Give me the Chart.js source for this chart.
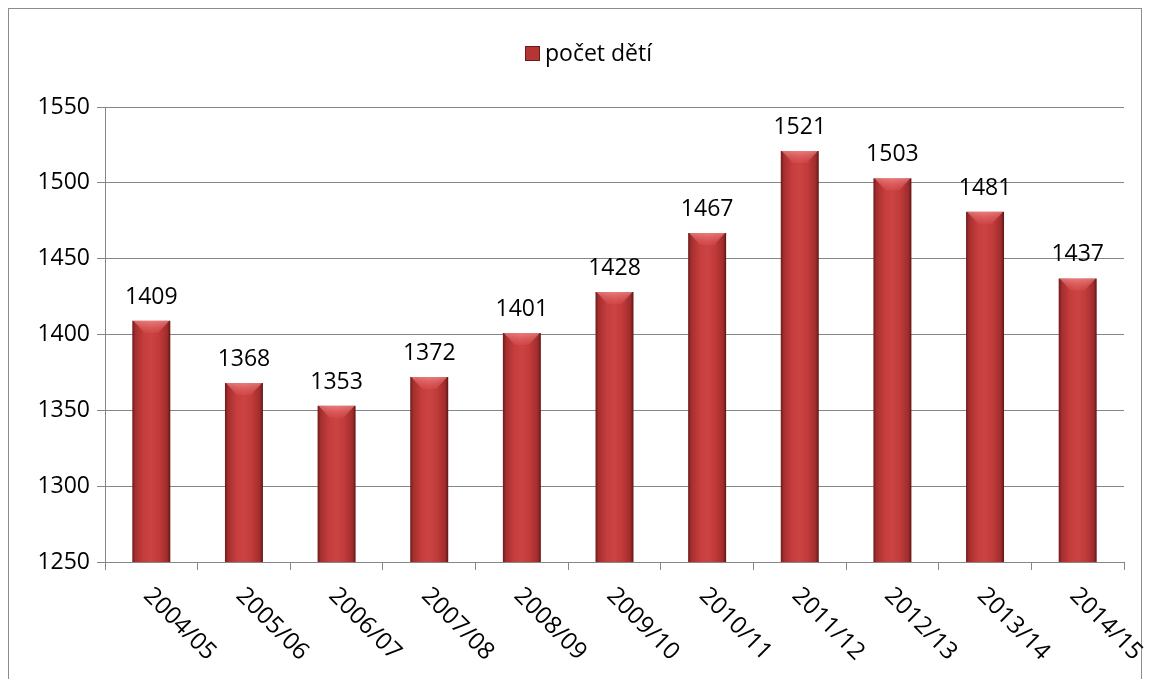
<!DOCTYPE html>
<html>
<head>
<meta charset="utf-8">
<script src="https://cdn.jsdelivr.net/npm/chart.js@4"></script>
<style>
  html, body { margin: 0; padding: 0; background: #fff; }
  #wrap { position: relative; width: 1149px; height: 679px; }
</style>
</head>
<body>
<div id="wrap"><canvas id="myChart" width="1149" height="679"></canvas></div>
<script>
const years = ['2004/05', '2005/06', '2006/07', '2007/08', '2008/09', '2009/10', '2010/11', '2011/12', '2012/13', '2013/14', '2014/15'];
const childCount = [1409, 1368, 1353, 1372, 1401, 1428, 1467, 1521, 1503, 1481, 1437];
const yTicks = [1250, 1300, 1350, 1400, 1450, 1500, 1550];
const seriesName = 'počet dětí';

const FONT = '"Open Sans", "Noto Sans", sans-serif';
const BAR_PCT = 0.41;

// horizontal gradient across each bar, like the office "shaded" style
function barFill(context) {
    const chart = context.chart;
    const xs = chart.scales.x;
    if (!xs || !chart.chartArea) return '#c0393a';
    const cx = xs.getPixelForValue(context.dataIndex);
    const half = (xs.width / years.length) * BAR_PCT / 2;
    const g = chart.ctx.createLinearGradient(cx - half, 0, cx + half, 0);
    g.addColorStop(0, '#6e1a1a');
    g.addColorStop(0.08, '#a52e2e');
    g.addColorStop(0.3, '#c53d3d');
    g.addColorStop(0.5, '#cb4343');
    g.addColorStop(0.7, '#c23b3b');
    g.addColorStop(0.92, '#a02c2c');
    g.addColorStop(1, '#5e1515');
    return g;
}

const extras = {
    id: 'extras',
    beforeDraw(chart) {
        const c = chart.ctx;
        c.save();
        c.fillStyle = '#fff';
        c.fillRect(0, 0, chart.width, chart.height);
        c.strokeStyle = '#8c8c8c';
        c.lineWidth = 1;
        c.strokeRect(8.5, 8.5, 1133, 700);
        c.restore();
    },
    afterDatasetsDraw(chart) {
        const c = chart.ctx;
        const meta = chart.getDatasetMeta(0);
        const xs = chart.scales.x;
        c.save();
        // bevel on bar tops
        meta.data.forEach(bar => {
            const w = bar.width, l = bar.x - w / 2, t = bar.y;
            const gr = c.createLinearGradient(0, t, 0, t + 14);
            gr.addColorStop(0, 'rgba(255,160,160,0.6)');
            gr.addColorStop(1, 'rgba(230,90,90,0.15)');
            c.fillStyle = gr;
            c.beginPath();
            c.moveTo(l + 1, t);
            c.lineTo(l + w - 1, t);
            c.lineTo(l + w - 12, t + 12);
            c.lineTo(l + 12, t + 12);
            c.closePath();
            c.fill();
        });
        // values above bars
        c.fillStyle = '#000';
        c.font = '23px ' + FONT;
        c.textAlign = 'center';
        c.textBaseline = 'alphabetic';
        meta.data.forEach((bar, i) => {
            c.fillText(String(childCount[i]), bar.x, bar.y - 17);
        });
        // rotated category labels
        c.font = '24px ' + FONT;
        c.textAlign = 'left';
        c.textBaseline = 'middle';
        years.forEach((lab, i) => {
            const x = xs.getPixelForValue(i);
            c.save();
            c.translate(x - 4, xs.top + 30);
            c.rotate(Math.PI / 4);
            c.fillText(lab, 0, 0);
            c.restore();
        });
        // legend
        c.fillStyle = '#b53434';
        c.fillRect(525, 46, 15, 15);
        c.strokeStyle = '#6e1a1a';
        c.strokeRect(525.5, 46.5, 14, 14);
        c.fillStyle = '#000';
        c.font = '23px ' + FONT;
        c.textAlign = 'left';
        c.textBaseline = 'middle';
        c.fillText(seriesName, 545, 54);
        c.restore();
    }
};

const ctx = document.getElementById('myChart').getContext('2d');
const myChart = new Chart(ctx, {
    type: 'bar',
    data: {
        labels: years,
        datasets: [{
            label: seriesName,
            data: childCount,
            backgroundColor: barFill,
            borderWidth: 0,
            barPercentage: BAR_PCT,
            categoryPercentage: 1
        }]
    },
    options: {
        responsive: false,
        animation: false,
        layout: { padding: { top: 107, right: 25, left: 0, bottom: 0 } },
        plugins: {
            legend: { display: false },
            tooltip: { enabled: false }
        },
        scales: {
            x: {
                offset: true,
                grid: { display: true, drawOnChartArea: false, offset: true, color: '#868686', tickLength: 8 },
                border: { color: '#868686' },
                ticks: { display: false },
                afterFit(scale) { scale.height = 117; }
            },
            y: {
                min: 1250,
                max: 1550,
                afterBuildTicks(scale) { scale.ticks = yTicks.map(v => ({ value: v })); },
                grid: { color: '#868686', tickLength: 8 },
                border: { color: '#868686' },
                ticks: {
                    color: '#000',
                    font: { family: FONT, size: 23 },
                    padding: 7,
                    callback: v => String(v)
                },
                afterFit(scale) { scale.width = 105; }
            }
        }
    },
    plugins: [extras]
});
</script>
</body>
</html>
